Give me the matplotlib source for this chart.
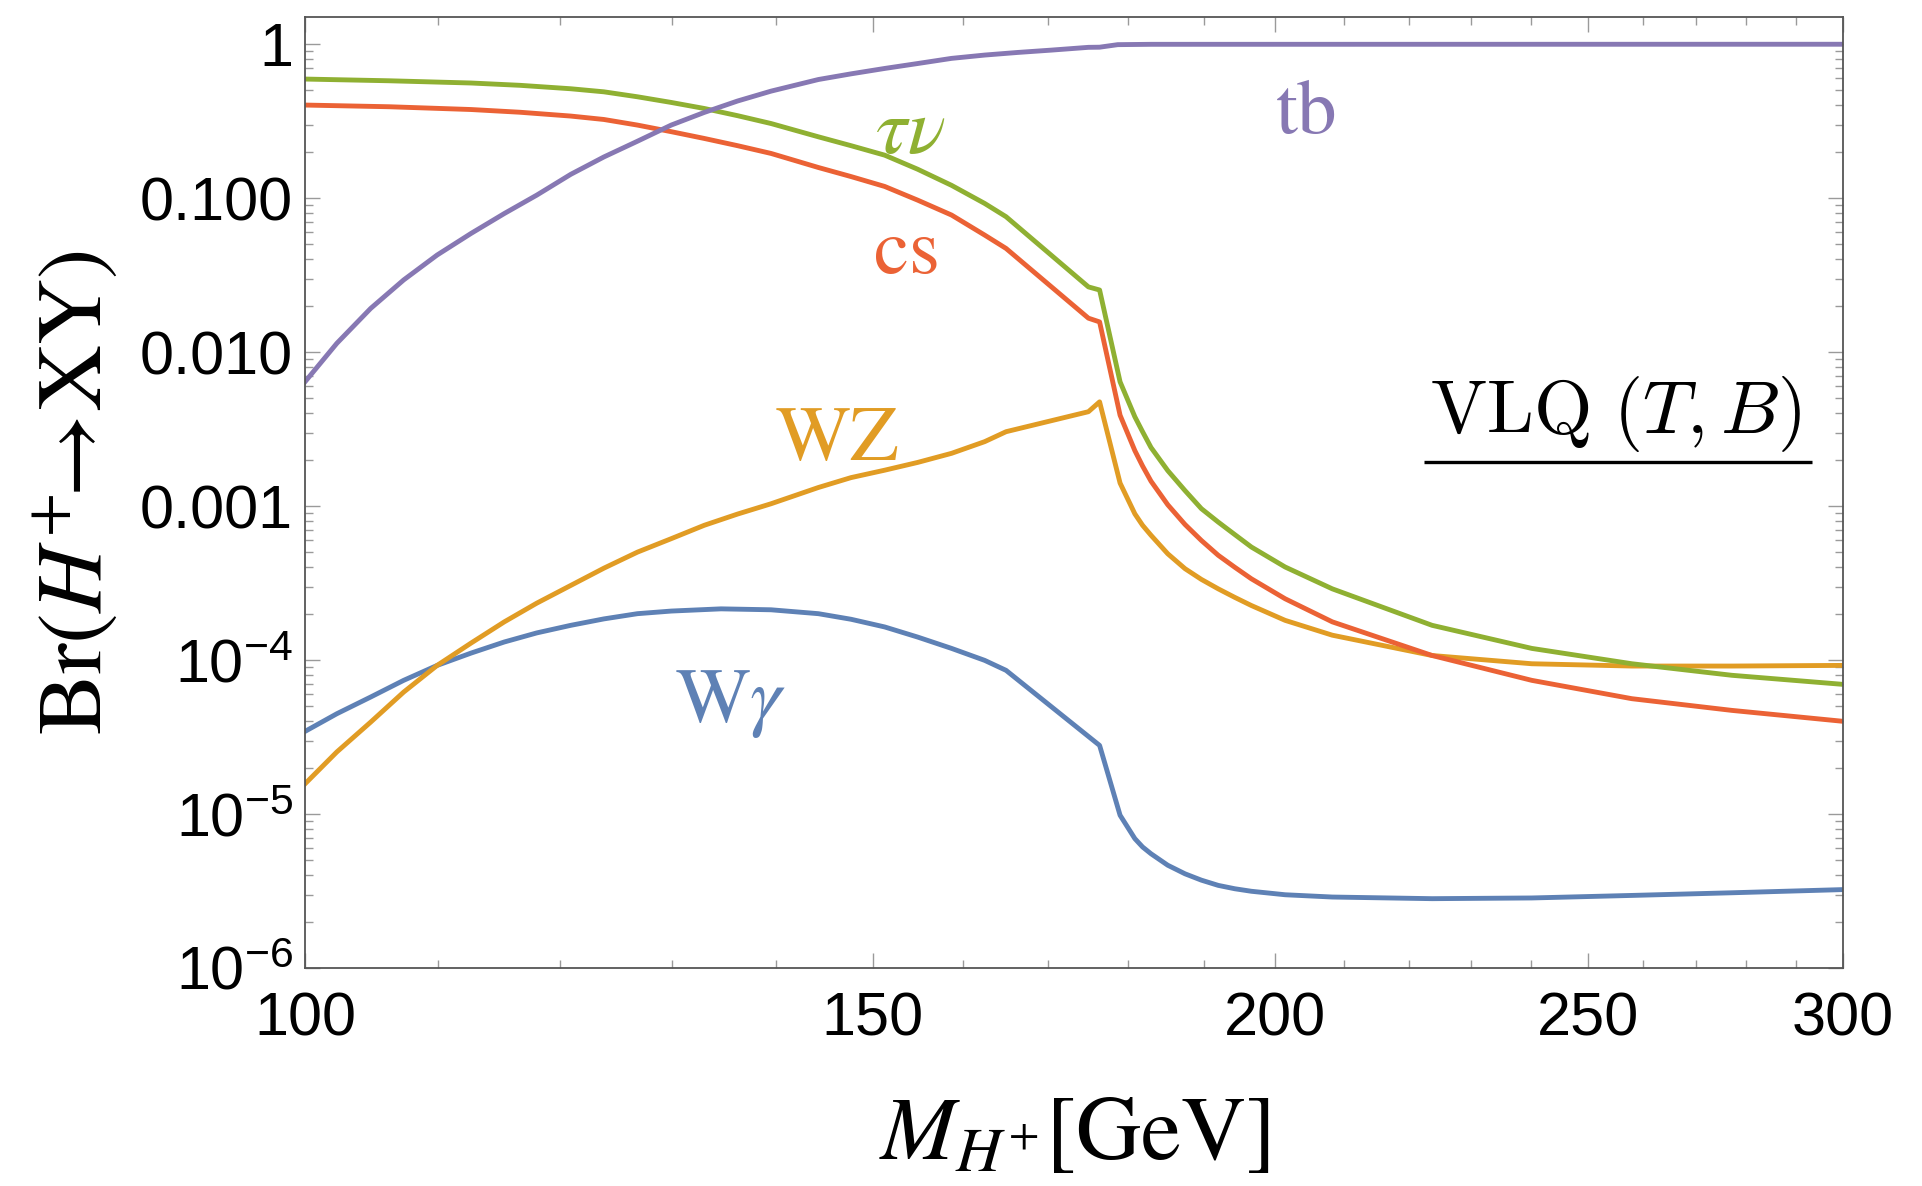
import matplotlib
matplotlib.use('Agg')
import matplotlib.pyplot as plt
from matplotlib.ticker import FixedLocator, FixedFormatter, NullFormatter, LogLocator
import numpy as np

plt.rcParams['font.family'] = ['Liberation Sans', 'DejaVu Sans']
plt.rcParams['mathtext.fontset'] = 'custom'
plt.rcParams['mathtext.rm'] = 'Liberation Sans'
plt.rcParams['mathtext.it'] = 'Liberation Sans:italic'
plt.rcParams['mathtext.bf'] = 'Liberation Sans:bold'

# ---------------- data ----------------
m_wgamma = [100, 102.3, 104.8, 107.3, 109.9, 112.6, 115.3, 118.0, 120.9, 123.8, 126.8, 129.9,
            134.6, 139.5, 144.3, 147.7, 151.3, 154.9, 158.7, 162.5, 165.0, 176.4, 179.0,
            180.9, 181.9, 183.0, 185.2, 187.5, 189.7, 192.0, 194.3, 196.6, 201.4, 208.3,
            223.7, 240.2, 258.0, 277.1, 300]
br_wgamma = [3.44e-5, 4.48e-5, 5.75e-5, 7.38e-5, 9.23e-5, 1.11e-4, 1.31e-4, 1.50e-4, 1.68e-4,
             1.85e-4, 2.00e-4, 2.08e-4, 2.15e-4, 2.12e-4, 2.00e-4, 1.84e-4, 1.64e-4, 1.41e-4,
             1.19e-4, 9.95e-5, 8.57e-5, 2.79e-5, 9.82e-6, 6.92e-6, 6.11e-6, 5.52e-6, 4.65e-6,
             4.09e-6, 3.72e-6, 3.44e-6, 3.27e-6, 3.15e-6, 2.99e-6, 2.89e-6, 2.82e-6, 2.85e-6,
             2.96e-6, 3.08e-6, 3.23e-6]

m_wz = [100, 102.3, 104.8, 107.3, 109.9, 112.6, 115.3, 118.0, 120.9, 123.8, 126.8, 129.9,
        133.0, 136.2, 139.5, 144.3, 147.7, 151.3, 154.9, 158.7, 162.5, 165.0, 175.0, 176.4,
        179.0, 180.9, 181.9, 183.0, 185.2, 187.5, 189.7, 192.0, 194.3, 196.6, 201.4, 208.3,
        223.7, 240.2, 258.0, 277.1, 300]
br_wz = [1.57e-5, 2.53e-5, 3.95e-5, 6.19e-5, 9.23e-5, 1.29e-4, 1.77e-4, 2.34e-4, 3.05e-4,
         3.95e-4, 5.02e-4, 6.14e-4, 7.50e-4, 8.87e-4, 1.035e-3, 1.32e-3, 1.53e-3, 1.71e-3,
         1.92e-3, 2.20e-3, 2.62e-3, 3.04e-3, 4.10e-3, 4.75e-3, 1.41e-3, 8.9e-4, 7.50e-4,
         6.46e-4, 4.90e-4, 3.92e-4, 3.34e-4, 2.90e-4, 2.55e-4, 2.26e-4, 1.81e-4, 1.45e-4,
         1.07e-4, 9.46e-5, 9.14e-5, 9.14e-5, 9.23e-5]

m_taunu = [100, 106.2, 112.6, 116.6, 120.9, 123.8, 126.8, 129.9, 133.0, 136.2, 139.5, 144.3,
           147.7, 151.3, 154.9, 158.7, 162.5, 165.0, 175.0, 176.4, 179.0, 180.9, 181.9, 183.0,
           185.2, 187.5, 189.7, 192.0, 194.3, 196.6, 201.4, 208.3, 223.7, 240.2, 258.0,
           277.1, 300]
br_taunu = [0.593, 0.578, 0.559, 0.540, 0.513, 0.490, 0.455, 0.418, 0.382, 0.343, 0.305,
            0.250, 0.219, 0.190, 0.154, 0.121, 0.0923, 0.0757, 0.0265, 0.0253, 6.41e-3,
            3.80e-3, 3.04e-3, 2.40e-3, 1.70e-3, 1.26e-3, 9.62e-4, 7.87e-4, 6.52e-4, 5.42e-4,
            4.02e-4, 2.90e-4, 1.68e-4, 1.19e-4, 9.46e-5, 7.96e-5, 6.95e-5]

m_cs = [100, 106.2, 112.6, 116.6, 120.9, 123.8, 126.8, 129.9, 133.0, 136.2, 139.5, 144.3,
        147.7, 151.3, 154.9, 158.7, 162.5, 165.0, 175.0, 176.4, 179.0, 180.9, 181.9, 183.0,
        185.2, 187.5, 189.7, 192.0, 194.3, 196.6, 201.4, 208.3, 223.7, 240.2, 258.0, 277.1,
        300]
br_cs = [0.402, 0.392, 0.376, 0.361, 0.341, 0.324, 0.298, 0.270, 0.244, 0.219, 0.195, 0.158,
         0.138, 0.119, 0.0970, 0.0776, 0.0575, 0.0471, 0.0166, 0.0157, 3.89e-3, 2.29e-3,
         1.82e-3, 1.45e-3, 1.02e-3, 7.59e-4, 5.98e-4, 4.79e-4, 4.00e-4, 3.37e-4, 2.50e-4,
         1.77e-4, 1.07e-4, 7.38e-5, 5.61e-5, 4.71e-5, 4.00e-5]

m_tb = [100, 102.3, 104.8, 107.3, 109.9, 112.6, 115.3, 118.0, 120.9, 123.8, 126.8, 129.9,
        133.0, 136.2, 139.5, 144.3, 147.7, 151.3, 154.9, 158.7, 162.5, 166.4, 170.4, 175.0,
        176.4, 178.7, 183.0, 300]
br_tb = [6.41e-3, 0.0114, 0.0192, 0.0294, 0.0427, 0.0590, 0.0794, 0.1045, 0.1426, 0.185,
         0.234, 0.298, 0.360, 0.427, 0.495, 0.589, 0.641, 0.695, 0.748, 0.808, 0.849, 0.883,
         0.914, 0.953, 0.955, 0.992, 0.997, 0.998]

series_labels = [r'$\mathrm{W}\gamma$', r'$\mathrm{WZ}$', r'$\tau\nu$', r'$\mathrm{cs}$', r'$\mathrm{tb}$']
label_pos = [(135.5, 3.96e-5), (146.2, 1.99e-3), (154.1, 0.196), (153.5, 0.0326), (204.4, 0.264)]

x_ticks = [100, 150, 200, 250, 300]
x_tick_labels = ['100', '150', '200', '250', '300']
x_minor = [110, 120, 130, 140, 160, 170, 180, 190, 210, 220, 230, 240, 260, 270, 280, 290]
y_ticks = [1e-6, 1e-5, 1e-4, 1e-3, 1e-2, 1e-1, 1]
y_tick_labels = [r'$10^{-6}$', r'$10^{-5}$', r'$10^{-4}$', '0.001', '0.010', '0.100', '1']

colors = ['#5E81B5', '#E19C24', '#8FB032', '#EB6235', '#8778B3']

# ---------------- figure ----------------
fig = plt.figure(figsize=(19.22, 11.86), dpi=100)
ax = fig.add_axes([305 / 1922, 1 - 968 / 1186, (1843 - 305) / 1922, (968 - 17) / 1186])

ms = [m_wgamma, m_wz, m_taunu, m_cs, m_tb]
brs = [br_wgamma, br_wz, br_taunu, br_cs, br_tb]
for m, b, c in zip(ms, brs, colors):
    ax.plot(m, b, color=c, lw=3.5, solid_joinstyle='round', clip_on=True)

ax.set_xscale('log')
ax.set_yscale('log')
ax.set_xlim(100, 300)
ax.set_ylim(1e-6, 1.5)

ax.xaxis.set_major_locator(FixedLocator(x_ticks))
ax.xaxis.set_major_formatter(FixedFormatter(x_tick_labels))
ax.xaxis.set_minor_locator(FixedLocator(x_minor))
ax.xaxis.set_minor_formatter(NullFormatter())
ax.yaxis.set_major_locator(FixedLocator(y_ticks))
ax.yaxis.set_major_formatter(FixedFormatter(y_tick_labels))
ax.yaxis.set_minor_locator(LogLocator(base=10, subs=np.arange(2, 10), numticks=20))
ax.yaxis.set_minor_formatter(NullFormatter())

ax.tick_params(which='both', direction='in', top=True, right=True, color='#9a9a9a', width=1.0)
ax.tick_params(which='major', length=11, labelsize=44)
ax.tick_params(which='minor', length=6)
ax.tick_params(axis='x', which='major', pad=17)
ax.tick_params(axis='y', which='major', pad=8.5)
for s in ax.spines.values():
    s.set_color('#555555')
    s.set_linewidth(1.3)

ax.set_xlabel(r'$M_{H^{+}}[\mathrm{GeV}]$', fontsize=65, math_fontfamily='stix')
ax.xaxis.set_label_coords(0.5, -0.131)
ax.set_ylabel(r'$\mathrm{Br}(H^{+}\!\!\rightarrow\!\mathrm{XY})$', fontsize=66, math_fontfamily='stix')
ax.yaxis.set_label_coords(-0.120, 0.5)

for lab, (xm, yv), c in zip(series_labels, label_pos, colors):
    ax.text(xm, yv, lab, color=c, fontsize=57, math_fontfamily='stix', ha='center', va='baseline')

ax.text(0.8518, 0.5626, r'$\mathrm{VLQ}\ (T,B)$', transform=ax.transAxes, fontsize=54,
        math_fontfamily='cm', ha='center', va='baseline', color='black')
ax.plot([0.7276, 0.9798], [0.5324, 0.5324], transform=ax.transAxes, color='black', lw=2.4,
        solid_capstyle='butt', clip_on=False)

fig.savefig('out.png', dpi=100)
